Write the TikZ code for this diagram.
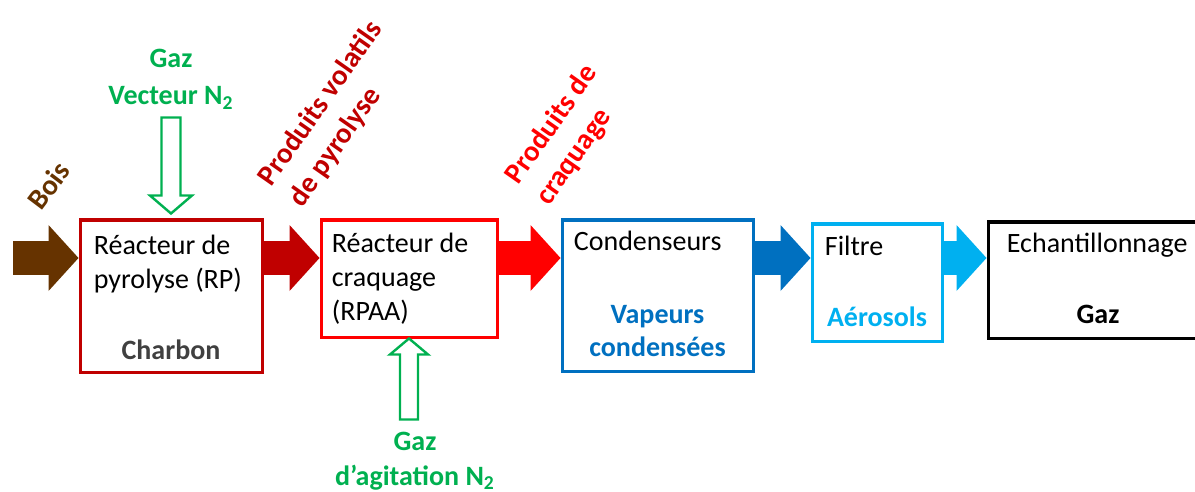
\documentclass[tikz,border=0pt]{standalone}
\usepackage{fontspec}
\setmainfont{Carlito}
\usepackage{tikz}
\usetikzlibrary{arrows.meta, positioning, calc}
\definecolor{pyroRed}{HTML}{C00000}
\definecolor{crackRed}{HTML}{FF0000}
\definecolor{condBlue}{HTML}{0070C0}
\definecolor{filtBlue}{HTML}{00B0F0}
\definecolor{gasGreen}{HTML}{00B050}
\definecolor{woodBrown}{HTML}{663300}
\definecolor{charGray}{HTML}{404040}

\begin{document}
\begin{tikzpicture}[x=0.5pt, y=-0.5pt,
	box/.style={rectangle, draw=#1, line width=1.5pt, inner sep=0pt},
	boxtext/.style={anchor=base west, align=left, inner sep=0pt, font=\fontsize{14}{17}\selectfont},
	product/.style={anchor=base, align=center, inner sep=0pt, text=#1, font=\fontsize{14}{16.5}\selectfont\bfseries},
	stream/.style={anchor=base west, align=left, inner sep=0pt, text=#1, font=\fontsize{14.5}{18.5}\selectfont\bfseries},
	gastext/.style={anchor=base, align=center, inner sep=0pt, text=gasGreen, font=\fontsize{14}{#1}\selectfont\bfseries},
	flow/.style={color=#1, line width=17pt, -{Triangle[length=15pt, width=33pt, line width=0pt]}},
	gasin/.style={draw=gasGreen, line width=1.2pt, fill=white}
]
\useasboundingbox (0,0) rectangle (1195,492);

% Units
\node[box=pyroRed, minimum width=91pt, minimum height=76pt] (RP) at (171,296) {};
\node[box=crackRed, minimum width=88pt, minimum height=58.5pt] (RPAA) at (409,278.5) {};
\node[box=condBlue, minimum width=95.5pt, minimum height=75.5pt] (CD) at (657.5,295.5) {};
\node[box=filtBlue, minimum width=65pt, minimum height=58.5pt] (FT) at (877,282.5) {};
\node[box=black, minimum width=110pt, minimum height=58pt] (EC) at (1098,280) {};

% Unit names (base = last line)
\node[boxtext] (RPname) at ($(RP.north west)+(15,70)$) {Réacteur de\\pyrolyse (RP)};
\node[boxtext] (RPAAname) at ($(RPAA.north west)+(12,102)$) {Réacteur de\\craquage\\(RPAA)};
\node[boxtext] (CDname) at ($(CD.north west)+(13,32)$) {Condenseurs};
\node[boxtext] (FTname) at ($(FT.north west)+(14,33)$) {Filtre};
\node[boxtext] (ECname) at ($(EC.north west)+(20,32)$) {Echantillonnage};

% Collected products
\node[product=charGray] (charbon) at ($(RP.south)+(0,-14)$) {Charbon};
\node[product=condBlue] (vapeurs) at ($(CD.south)+(0,-16)$) {Vapeurs\\condensées};
\node[product=filtBlue] (aerosols) at ($(FT.south)+(0,-16)$) {Aérosols};
\node[product=black] (gaz) at ($(EC.south)+(0,-16)$) {Gaz};

% Main flow
\coordinate (lvl) at (0,258);
\coordinate (wood) at (13,258);
\draw[flow=woodBrown] (wood) -- (RP.west |- lvl);
\draw[flow=pyroRed] (RP.east |- lvl) -- (RPAA.west |- lvl);
\draw[flow=crackRed] (RPAA.east |- lvl) -- (CD.west |- lvl);
\draw[flow=condBlue] (CD.east |- lvl) -- (FT.west |- lvl);
\draw[flow=filtBlue] (FT.east |- lvl) -- (EC.west |- lvl);

% Stream labels
\node[stream=woodBrown, rotate=53] (bois) at (41,212) {Bois};
\node[stream=pyroRed, rotate=55] (volatils) at (302,209) {Produits volatils\\de pyrolyse};
\node[stream=crackRed, rotate=55] (craquage) at (549,207) {Produits de\\craquage};

% Nitrogen inlets
\draw[gasin] ($(RP.north)+(0,-5)$) -- ++(-21,-18) -- ++(11.5,0) -- ++(0,-78)
	-- ++(19,0) -- ++(0,78) -- ++(11.5,0) -- cycle;
\node[gastext=18.5] (vecteur) at (171,105) {Gaz\\Vecteur N\textsubscript{2}};
\draw[gasin] (RPAA.south) -- ++(-19,16) -- ++(10,0) -- ++(0,65)
	-- ++(18,0) -- ++(0,-65) -- ++(10,0) -- cycle;
\node[gastext=17.5] (agitation) at (415,485) {Gaz\\d’agitation N\textsubscript{2}};

\end{tikzpicture}
\end{document}
